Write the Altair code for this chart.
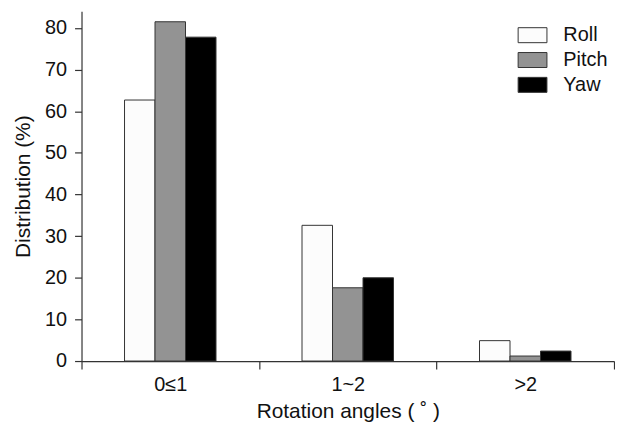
import altair as alt
import pandas as pd

categories = ["0≤1", "1~2", ">2"]
series = ["Roll", "Pitch", "Yaw"]
roll = [62.7, 32.6, 4.9]
pitch = [81.5, 17.6, 1.2]
yaw = [77.8, 20.0, 2.4]
colors = ["#fcfcfc", "#939393", "#000000"]

rows = []
for s, vals in zip(series, [roll, pitch, yaw]):
    for c, v in zip(categories, vals):
        rows.append({"angle": c, "axis": s, "value": v})
df = pd.DataFrame(rows)

font = "Liberation Sans"
# empty slots on each side of the three bars within a group
offset_domain = ["_left"] + series + ["_right"]

chart = alt.Chart(df).mark_bar(stroke="#333333", strokeWidth=1).encode(
    x=alt.X("angle:N", sort=categories, title="Rotation angles ( ˚ )",
            scale=alt.Scale(paddingInner=0, paddingOuter=0),
            axis=alt.Axis(labelAngle=0, tickBand="extent", tickSize=8,
                          labelPadding=6, titlePadding=6)),
    xOffset=alt.XOffset("axis:N",
                        scale=alt.Scale(domain=offset_domain, paddingInner=0, paddingOuter=0.41)),
    y=alt.Y("value:Q", title="Distribution (%)",
            scale=alt.Scale(domain=[0, 84], nice=False),
            axis=alt.Axis(values=[0, 10, 20, 30, 40, 50, 60, 70, 80], tickSize=7,
                          grid=False, titlePadding=11, labelPadding=8)),
    fill=alt.Fill("axis:N", sort=series,
                  scale=alt.Scale(domain=series, range=colors),
                  legend=alt.Legend(title=None, orient="none", legendX=439, legendY=9,
                                    symbolType="M-1,-0.52H1V0.52H-1Z", symbolSize=841,
                                    symbolStrokeColor="#333333", symbolStrokeWidth=1,
                                    labelFontSize=20, labelFont=font, labelColor="#111111",
                                    labelOffset=16, rowPadding=0)),
).properties(width=536, height=352, padding={"left": 4, "top": 2, "right": 0, "bottom": 0}).configure_axis(
    domainColor="#333333", tickColor="#333333", labelFont=font, titleFont=font,
    labelFontSize=20, titleFontSize=21, labelColor="#111111", titleColor="#111111",
    titleFontWeight="normal", domainWidth=1.2, tickWidth=1.2,
).configure_view(stroke=None)

chart.save("out.html", embed_options={"renderer": "svg", "actions": False})
